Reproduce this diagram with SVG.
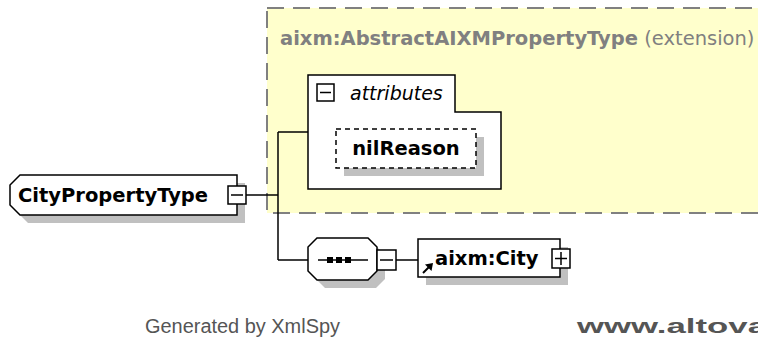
<svg xmlns="http://www.w3.org/2000/svg" width="758" height="351" viewBox="0 0 758 351">
<style>
.lbl{font-family:"DejaVu Sans",Verdana,sans-serif;font-size:19.5px;font-weight:bold;fill:#000}
.ttl{font-family:"DejaVu Sans",Verdana,sans-serif;font-size:19.5px;fill:#808080}
.it{font-family:"DejaVu Sans",Verdana,sans-serif;font-size:19px;font-style:italic;fill:#000}
.foot{font-family:"Liberation Sans",Arial,sans-serif;font-size:20px;fill:#555}
.box{fill:#fff;stroke:#000;stroke-width:1.5}
.shadow{fill:#c0c0c0;stroke:none}
.btn{fill:#fff;stroke:#000;stroke-width:1.5}
.ln{stroke:#000;stroke-width:1.5;fill:none}
</style>
<rect width="758" height="351" fill="#fff"/>
<g id="extension">
<rect x="267" y="8" width="520" height="205" fill="#ffffcc" stroke="#808080" stroke-width="2" stroke-dasharray="17,9"/>
<text class="ttl" x="280" y="45"><tspan font-weight="bold">aixm:AbstractAIXMPropertyType</tspan> (extension)</text>
</g>
<g id="connectors">
<line class="ln" x1="246" y1="195" x2="278" y2="195"/>
<line class="ln" x1="278" y1="132" x2="278" y2="260"/>
<line class="ln" x1="278" y1="132" x2="308" y2="132"/>
<line class="ln" x1="278" y1="260" x2="308" y2="260"/>
<line class="ln" x1="396" y1="260" x2="418" y2="260"/>
</g>
<g id="CityPropertyType">
<polygon class="shadow" points="28,183 245,183 245,223 28,223 18,213 18,193"/>
<polygon class="box" points="20,175 237,175 237,215 20,215 10,205 10,185"/>
<text class="lbl" x="18" y="202">CityPropertyType</text>
<rect class="btn" x="228" y="186" width="18" height="18"/>
<line class="ln" x1="231" y1="195" x2="243" y2="195"/>
</g>
<g id="attributes">
<path class="box" d="M308,75 H455 V112 H501 V189 H308 Z"/>
<rect class="btn" x="317" y="84" width="17" height="17"/>
<line class="ln" x1="320" y1="92.5" x2="331" y2="92.5"/>
<text class="it" x="350" y="100">attributes</text>
</g>
<g id="nilReason">
<rect class="shadow" x="344" y="137" width="140" height="39"/>
<rect x="336" y="129" width="140" height="39" fill="#fff" stroke="#000" stroke-width="1.5" stroke-dasharray="5,4"/>
<text class="lbl" x="406" y="155" text-anchor="middle">nilReason</text>
</g>
<g id="sequence">
<polygon class="shadow" points="325,246 376,246 385,255 385,279 376,288 325,288 316,279 316,255"/>
<polygon class="box" points="317,238 368,238 377,247 377,271 368,280 317,280 308,271 308,247"/>
<line class="ln" x1="318" y1="260" x2="368" y2="260"/>
<rect x="327" y="257" width="6" height="6" fill="#000"/>
<rect x="336" y="257" width="6" height="6" fill="#000"/>
<rect x="345" y="257" width="6" height="6" fill="#000"/>
<rect class="btn" x="377" y="250" width="19" height="20"/>
<line class="ln" x1="380" y1="260" x2="393" y2="260"/>
</g>
<g id="aixmCity">
<rect class="shadow" x="426" y="247" width="142" height="38"/>
<rect class="box" x="418" y="239" width="142" height="38"/>
<line x1="423" y1="273" x2="430" y2="266" stroke="#000" stroke-width="2"/>
<polygon points="433,263 425,264.5 431.5,271" fill="#000"/>
<text class="lbl" x="435" y="265">aixm:City</text>
<rect class="btn" x="552" y="249" width="18" height="19"/>
<line class="ln" x1="555" y1="258.5" x2="567" y2="258.5"/>
<line class="ln" x1="561" y1="252" x2="561" y2="265"/>
</g>
<text class="foot" x="145" y="333" textLength="195" lengthAdjust="spacingAndGlyphs">Generated by XmlSpy</text>
<text class="foot" x="577" y="333" font-weight="bold" fill="#333" textLength="190" lengthAdjust="spacingAndGlyphs">www.altova</text>
</svg>
